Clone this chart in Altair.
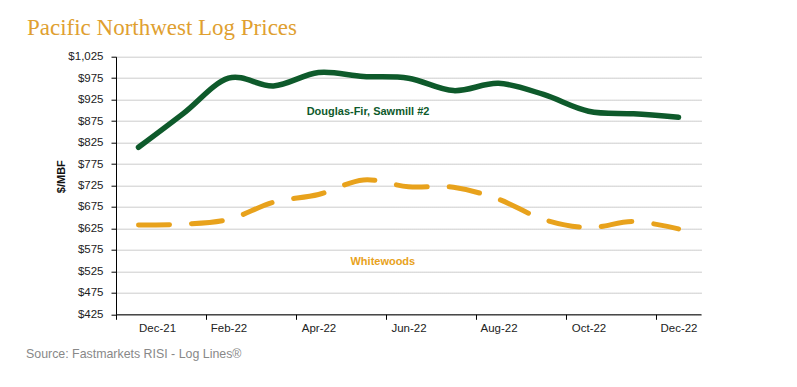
import altair as alt
import pandas as pd

# ---- data ----
months = ["Dec-21", "Jan-22", "Feb-22", "Mar-22", "Apr-22", "May-22", "Jun-22",
          "Jul-22", "Aug-22", "Sep-22", "Oct-22", "Nov-22", "Dec-22"]
douglas_fir = [814, 893, 975, 957, 988, 979, 975, 946, 963, 937, 898, 892, 884]
whitewoods = [633, 635, 646, 686, 704, 738, 722, 721, 693, 646, 627, 641, 624]

tick_labels = months[::2]
y_ticks = list(range(425, 1026, 50))

ann_text = ["Douglas-Fir, Sawmill #2", "Whitewoods"]
ann_x = [5.1, 5.43]
ann_y = [896, 547]

title_text = "Pacific Northwest Log Prices"
source_text = "Source: Fastmarkets RISI - Log Lines®"

GREEN = "#0E5A2B"
GOLD = "#E8A21C"
TITLE_GOLD = "#E0A030"
FONT = "Liberation Sans"

idx = list(range(len(months)))
df_df = pd.DataFrame({"i": idx, "month": months, "v": douglas_fir})
df_ww = pd.DataFrame({"i": idx, "month": months, "v": whitewoods})
df_ann = pd.DataFrame({"t": ann_text, "x": ann_x, "y": ann_y, "c": [GREEN, GOLD]})

label_expr = "[" + ",".join("'" + s + "'" for s in tick_labels) + "][round((datum.value + 0.5) / 2)]"

x_scale = alt.Scale(domain=[-0.5, len(months) - 0.5], nice=False, zero=False)
y_scale = alt.Scale(domain=[425, 1025], nice=False, zero=False)

x_axis = alt.Axis(
    values=[i - 0.5 for i in range(0, len(months), 2)],
    labelExpr=label_expr, labelOffset=22.5, title=None, grid=False,
    domainColor="#000", tickColor="#000", tickSize=5, labelPadding=3,
    labelFont=FONT, labelFontSize=11.5, labelColor="#222", labelOverlap=False,
)
y_axis = alt.Axis(
    values=y_ticks, format="$,.0f", title=None, grid=True,
    gridColor="#9a9a9a", gridDash=[1, 1], gridWidth=1,
    domainColor="#000", tickColor="#000", tickSize=5, labelPadding=8,
    labelFont=FONT, labelFontSize=11.5, labelColor="#222", labelOverlap=False,
)

line_df = alt.Chart(df_df).mark_line(
    color=GREEN, strokeWidth=5.5, strokeCap="round", interpolate="cardinal"
).encode(
    x=alt.X("i:Q", scale=x_scale, axis=x_axis),
    y=alt.Y("v:Q", scale=y_scale, axis=y_axis),
)

line_ww = alt.Chart(df_ww).mark_line(
    color=GOLD, strokeWidth=5, strokeCap="round", strokeDash=[31, 22],
    interpolate="cardinal"
).encode(
    x=alt.X("i:Q", scale=x_scale, axis=x_axis),
    y=alt.Y("v:Q", scale=y_scale, axis=y_axis),
)

ann = alt.Chart(df_ann).mark_text(
    font=FONT, fontSize=11, fontWeight="bold", align="center", baseline="middle"
).encode(
    x=alt.X("x:Q", scale=x_scale, axis=x_axis),
    y=alt.Y("y:Q", scale=y_scale, axis=y_axis),
    text="t:N",
    color=alt.Color("c:N", scale=None),
)

title = alt.Chart(pd.DataFrame({"t": [title_text]})).mark_text(
    font="Liberation Serif", fontSize=23, color=TITLE_GOLD, align="left",
    baseline="alphabetic"
).encode(x=alt.value(-89), y=alt.value(-21.5), text="t:N")

ylab = alt.Chart(pd.DataFrame({"t": ["$/MBF"]})).mark_text(
    font=FONT, fontSize=11, fontWeight="bold", color="#111", align="center",
    baseline="middle", angle=270
).encode(x=alt.value(-54.3), y=alt.value(120), text="t:N")

source = alt.Chart(pd.DataFrame({"t": [source_text]})).mark_text(
    font=FONT, fontSize=12.4, color="#888888", align="left", baseline="middle"
).encode(x=alt.value(-90), y=alt.value(297.3), text="t:N")

chart = alt.layer(line_df, line_ww, ann, title, ylab, source).properties(
    width=585, height=257.6,
    background="white",
    autosize=alt.AutoSizeParams(type="none"),
    padding={"left": 108, "top": 48.7, "right": 80, "bottom": 60},
).configure_view(stroke=None).configure_axisX(grid=False)

chart.save("out.html", embed_options={"renderer": "svg", "actions": False})
